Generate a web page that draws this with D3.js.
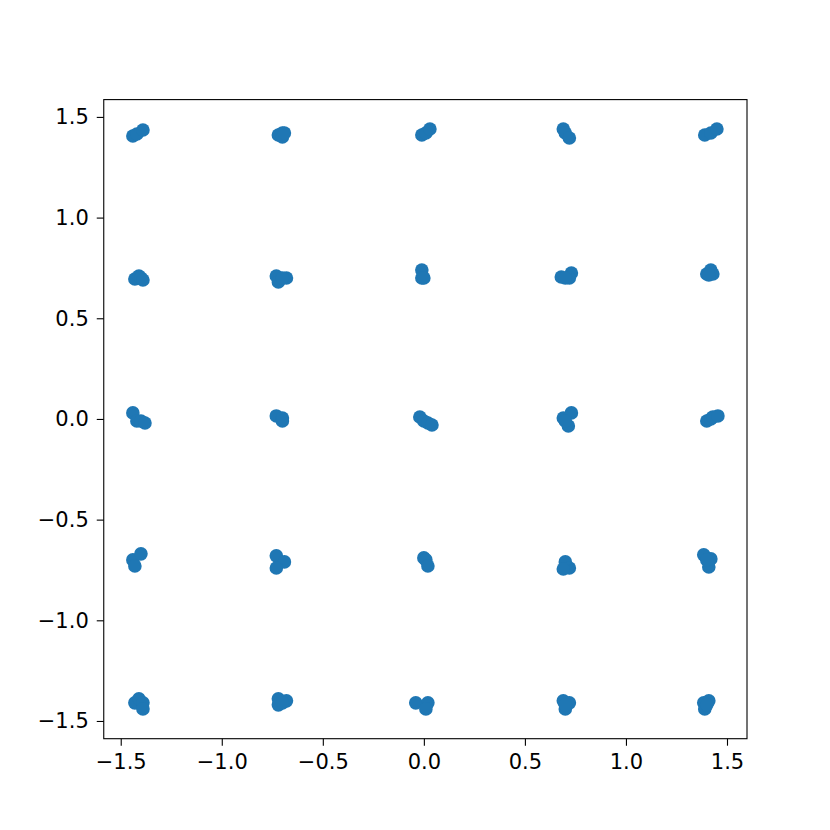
<!DOCTYPE html>
<html>
<head>
<meta charset="utf-8">
<script src="https://cdn.jsdelivr.net/npm/d3@7"></script>
<style>
  body { margin: 0; background: #fff; }
  svg { display: block; }
</style>
</head>
<body>
<div id="chart"></div>
<script>
// point coordinates, 5x5 grid with small jitter
const xs = [
  -1.44, -1.42, -1.39,
  -1.43, -1.41, -1.40, -1.39,
  -1.44, -1.42, -1.40, -1.38,
  -1.44, -1.40, -1.43,
  -1.43, -1.41, -1.39, -1.39,
  -0.72, -0.70, -0.70, -0.69,
  -0.73, -0.68, -0.72, -0.70,
  -0.73, -0.70, -0.70,
  -0.73, -0.69, -0.73,
  -0.72, -0.68, -0.72, -0.70,
  -0.01, 0.01, 0.03,
  -0.01, -0.01, 0.00,
  -0.02, 0.00, 0.02, 0.04,
  0.00, 0.01, 0.02,
  -0.04, 0.02, 0.01,
  0.69, 0.70, 0.72,
  0.68, 0.73, 0.72, 0.70,
  0.69, 0.73, 0.715, 0.70,
  0.70, 0.72, 0.69,
  0.69, 0.72, 0.70, 0.70,
  1.39, 1.42, 1.45,
  1.40, 1.42, 1.43, 1.41,
  1.40, 1.42, 1.43, 1.455,
  1.385, 1.42, 1.41, 1.40,
  1.385, 1.41, 1.39, 1.40
];
const ys = [
  1.405, 1.415, 1.435,
  0.695, 0.71, 0.70, 0.69,
  0.03, -0.01, -0.01, -0.02,
  -0.70, -0.67, -0.73,
  -1.41, -1.39, -1.41, -1.44,
  1.41, 1.42, 1.40, 1.42,
  0.71, 0.70, 0.68, 0.70,
  0.015, 0.005, -0.01,
  -0.68, -0.71, -0.74,
  -1.39, -1.40, -1.42, -1.41,
  1.41, 1.42, 1.44,
  0.74, 0.70, 0.70,
  0.01, -0.01, -0.02, -0.03,
  -0.69, -0.70, -0.73,
  -1.41, -1.41, -1.44,
  1.44, 1.42, 1.395,
  0.705, 0.725, 0.70, 0.70,
  0.005, 0.03, -0.035, -0.01,
  -0.71, -0.74, -0.745,
  -1.40, -1.41, -1.44, -1.42,
  1.41, 1.42, 1.44,
  0.72, 0.74, 0.72, 0.715,
  -0.01, 0.00, 0.01, 0.015,
  -0.675, -0.695, -0.735, -0.70,
  -1.41, -1.40, -1.44, -1.42
];
const tickValues = [-1.5, -1.0, -0.5, 0.0, 0.5, 1.0, 1.5];

const width = 830;
const height = 830;
const margin = { top: 99.6, right: 83, bottom: 91.3, left: 103.75 };

const svg = d3.select("#chart")
  .append("svg")
  .attr("width", width)
  .attr("height", height);

const x = d3.scaleLinear()
  .domain([-1.584, 1.599])
  .range([margin.left, width - margin.right]);

const y = d3.scaleLinear()
  .domain([-1.588, 1.586])
  .range([height - margin.bottom, margin.top]);

const fmt = d3.format(".1f");

svg.append("g")
  .selectAll("circle")
  .data(xs.map((d, i) => [d, ys[i]]))
  .enter()
  .append("circle")
  .attr("cx", d => x(d[0]))
  .attr("cy", d => y(d[1]))
  .attr("r", 6.8)
  .attr("fill", "#1f77b4");

const xAxis = svg.append("g")
  .attr("transform", `translate(0,${height - margin.bottom})`)
  .call(d3.axisBottom(x).tickValues(tickValues).tickFormat(fmt).tickSizeOuter(0).tickSize(7).tickPadding(8));

const yAxis = svg.append("g")
  .attr("transform", `translate(${margin.left},0)`)
  .call(d3.axisLeft(y).tickValues(tickValues).tickFormat(fmt).tickSizeOuter(0).tickSize(7).tickPadding(8));

[xAxis, yAxis].forEach(g => {
  g.select(".domain").remove();
  g.selectAll("line").attr("stroke", "#000").attr("stroke-width", 1.1);
  g.selectAll("text")
    .attr("fill", "#000")
    .style("font-family", "DejaVu Sans, sans-serif")
    .style("font-size", "21px");
});

svg.append("rect")
  .attr("x", margin.left)
  .attr("y", margin.top)
  .attr("width", width - margin.left - margin.right)
  .attr("height", height - margin.top - margin.bottom)
  .attr("fill", "none")
  .attr("stroke", "#000")
  .attr("stroke-width", 1.1);
</script>
</body>
</html>
